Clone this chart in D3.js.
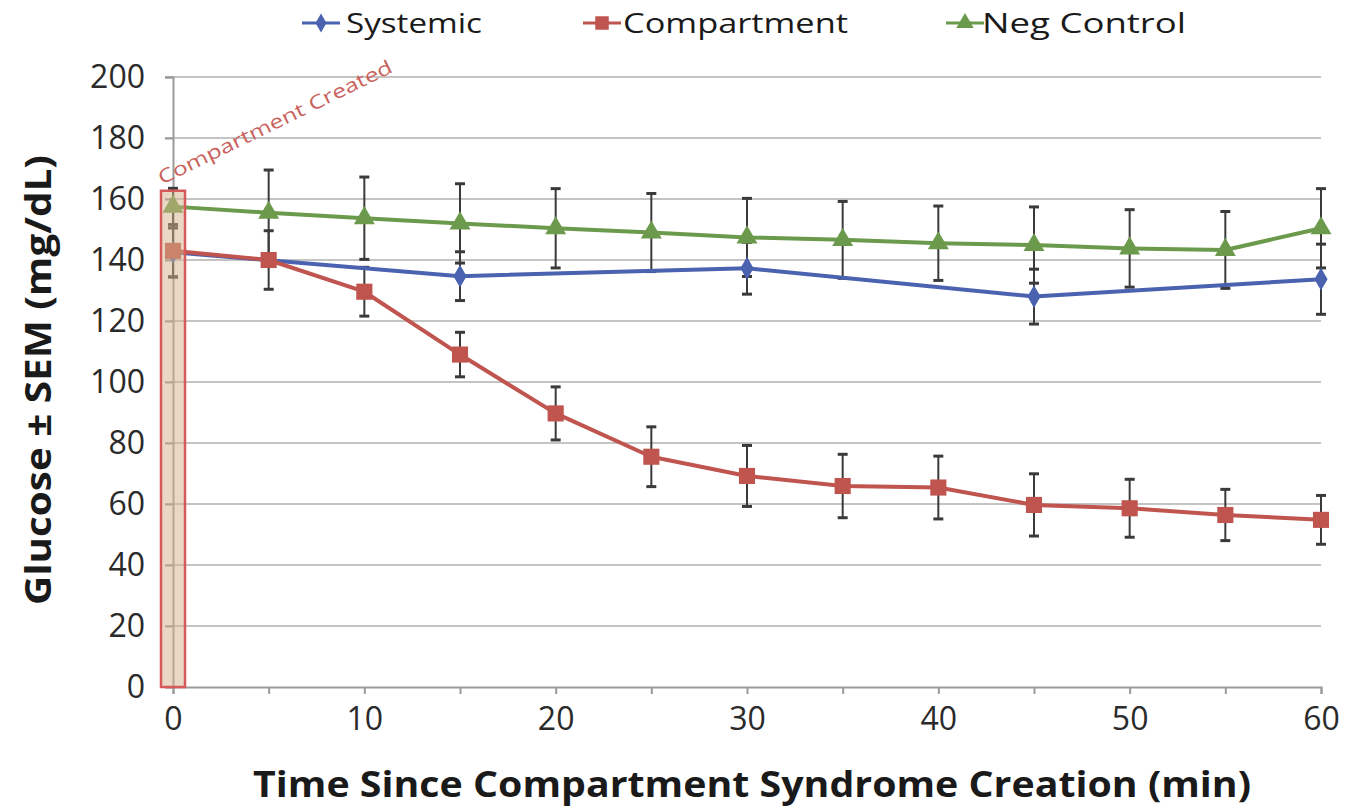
<!DOCTYPE html>
<html>
<head>
<meta charset="utf-8">
<script src="https://cdn.jsdelivr.net/npm/d3@7"></script>
<style>
  html, body { margin: 0; padding: 0; background: #ffffff; }
  svg { display: block; font-family: "Open Sans", sans-serif; }
</style>
</head>
<body>
<svg id="chart" width="1347" height="808"></svg>
<script>
// ---- data ----
const times = [0, 5, 10, 15, 20, 25, 30, 35, 40, 45, 50, 55, 60];
const systemicTimes = [0, 15, 30, 45, 60];
const systemicMean = [142.5, 134.7, 137.3, 128, 133.7];
const systemicSem = [8, 8, 8.5, 9, 11.5];
const compartmentMean = [143, 140, 129.6, 109, 89.7, 75.5, 69.2, 65.9, 65.4, 59.7, 58.6, 56.4, 54.8];
const compartmentSem = [8.6, 9.6, 8, 7.3, 8.7, 9.8, 10, 10.4, 10.3, 10.2, 9.5, 8.4, 8];
const negMean = [157.5, 155.5, 153.7, 152, 150.4, 149, 147.4, 146.6, 145.5, 144.9, 143.8, 143.3, 150.4];
const negSem = [6, 14, 13.5, 13, 13, 12.8, 12.8, 12.6, 12.2, 12.5, 12.7, 12.6, 13];
const yTicks = [0, 20, 40, 60, 80, 100, 120, 140, 160, 180, 200];
const xTicks = [0, 5, 10, 15, 20, 25, 30, 35, 40, 45, 50, 55, 60];
const xLabelTicks = [0, 10, 20, 30, 40, 50, 60];
const seriesNames = ["Systemic", "Compartment", "Neg Control"];
const markerEvent = { time: 0, top: 162.7, label: "Compartment  Created" };
const xTitle = "Time Since Compartment Syndrome Creation (min)";
const yTitle = "Glucose ± SEM (mg/dL)";

// ---- layout ----
const colors = { Systemic: "#4a62b0", Compartment: "#c0544f", "Neg Control": "#6c9a4c" };
const svg = d3.select("#chart");
const x = d3.scaleLinear().domain([0, 60]).range([173, 1321]);
const y = d3.scaleLinear().domain([0, 200]).range([687, 77]);

// gridlines
svg.append("g").selectAll("line").data(yTicks.filter(d => d > 0)).join("line")
  .attr("x1", x(0) - 8).attr("x2", x(60))
  .attr("y1", d => y(d)).attr("y2", d => y(d))
  .attr("stroke", "#c4c4c4").attr("stroke-width", 2);

// y axis
const yAxis = svg.append("g").attr("transform", `translate(${x(0)},0)`)
  .call(d3.axisLeft(y).tickValues(yTicks).tickSize(8).tickPadding(20));
yAxis.select(".domain").attr("stroke", "#9a9a9a").attr("stroke-width", 2);
yAxis.selectAll(".tick line").attr("stroke", "#9a9a9a").attr("stroke-width", 2);
yAxis.selectAll("text").attr("font-size", 32).attr("fill", "#2a2a2a")
  .attr("font-family", "Open Sans, sans-serif");

// x axis
const xAxis = svg.append("g").attr("transform", `translate(0,${y(0)})`)
  .call(d3.axisBottom(x).tickValues(xTicks).tickSize(7).tickPadding(13)
    .tickFormat(d => xLabelTicks.includes(d) ? d : ""));
xAxis.select(".domain").attr("stroke", "#9a9a9a").attr("stroke-width", 2);
xAxis.selectAll(".tick line").attr("stroke", "#9a9a9a").attr("stroke-width", 2);
xAxis.selectAll("text").attr("font-size", 32).attr("fill", "#2a2a2a")
  .attr("font-family", "Open Sans, sans-serif");

// axis titles
svg.append("text").attr("x", 752).attr("y", 797).attr("text-anchor", "middle")
  .attr("font-size", 36).attr("font-weight", "bold").attr("fill", "#1a1a1a")
  .attr("textLength", 998).attr("lengthAdjust", "spacingAndGlyphs")
  .text(xTitle);
svg.append("text").attr("transform", "translate(51,380) rotate(-90)")
  .attr("text-anchor", "middle")
  .attr("font-size", 36).attr("font-weight", "bold").attr("fill", "#1a1a1a")
  .attr("textLength", 450).attr("lengthAdjust", "spacingAndGlyphs")
  .text(yTitle);

// series structures
const series = [
  { name: "Systemic", pts: systemicTimes.map((t, i) => ({ t, m: systemicMean[i], s: systemicSem[i] })) },
  { name: "Compartment", pts: times.map((t, i) => ({ t, m: compartmentMean[i], s: compartmentSem[i] })) },
  { name: "Neg Control", pts: times.map((t, i) => ({ t, m: negMean[i], s: negSem[i] })) }
];

// error bars
const eb = svg.append("g");
series.forEach(s => {
  const g = eb.append("g");
  g.selectAll("line.v").data(s.pts).join("line")
    .attr("x1", d => x(d.t)).attr("x2", d => x(d.t))
    .attr("y1", d => y(d.m + d.s)).attr("y2", d => y(d.m - d.s))
    .attr("stroke", "#3a3a3a").attr("stroke-width", 2);
  [1, -1].forEach(sign => {
    g.selectAll("line.c" + sign).data(s.pts).join("line")
      .attr("x1", d => x(d.t) - 5).attr("x2", d => x(d.t) + 5)
      .attr("y1", d => y(d.m + sign * d.s)).attr("y2", d => y(d.m + sign * d.s))
      .attr("stroke", "#3a3a3a").attr("stroke-width", 3);
  });
});

// lines
const line = d3.line().x(d => x(d.t)).y(d => y(d.m));
series.forEach(s => {
  svg.append("path").datum(s.pts).attr("d", line)
    .attr("fill", "none").attr("stroke", colors[s.name]).attr("stroke-width", 4)
    .attr("stroke-linejoin", "round");
});

// markers
const symbols = { Systemic: d3.symbolDiamond, Compartment: d3.symbolSquare, "Neg Control": d3.symbolTriangle };
const sizes = { Systemic: 150, Compartment: 260, "Neg Control": 190 };
series.forEach(s => {
  svg.append("g").selectAll("path").data(s.pts).join("path")
    .attr("transform", d => `translate(${x(d.t)},${y(d.m)})`)
    .attr("d", d3.symbol().type(symbols[s.name]).size(sizes[s.name]))
    .attr("fill", colors[s.name]);
});

// compartment-created box
svg.append("rect")
  .attr("x", x(markerEvent.time) - 12).attr("width", 24)
  .attr("y", y(markerEvent.top)).attr("height", y(0) - y(markerEvent.top))
  .attr("fill", "#d4b48a").attr("fill-opacity", 0.5)
  .attr("stroke", "#d8595a").attr("stroke-width", 2.5);

svg.append("text")
  .attr("transform", `translate(${x(markerEvent.time) - 11},${y(markerEvent.top) - 6}) rotate(-26)`)
  .attr("font-size", 19).attr("fill", "#c9625c")
  .attr("textLength", 258).attr("lengthAdjust", "spacingAndGlyphs")
  .text(markerEvent.label);

// legend
const legendPos = [{ mx: 321, tx: 346, w: 136 }, { mx: 602, tx: 623, w: 225 }, { mx: 965, tx: 982, w: 204 }];
const lg = svg.append("g");
seriesNames.forEach((n, i) => {
  const p = legendPos[i];
  lg.append("line").attr("x1", p.mx - 19).attr("x2", p.mx + 19)
    .attr("y1", 23).attr("y2", 23).attr("stroke", colors[n]).attr("stroke-width", 3);
  lg.append("path").attr("transform", `translate(${p.mx},23)`)
    .attr("d", d3.symbol().type(symbols[n]).size(sizes[n] * 0.7)).attr("fill", colors[n]);
  lg.append("text").attr("x", p.tx).attr("y", 33)
    .attr("font-size", 28).attr("fill", "#1a1a1a")
    .attr("textLength", p.w).attr("lengthAdjust", "spacingAndGlyphs")
    .text(n);
});
</script>
</body>
</html>
